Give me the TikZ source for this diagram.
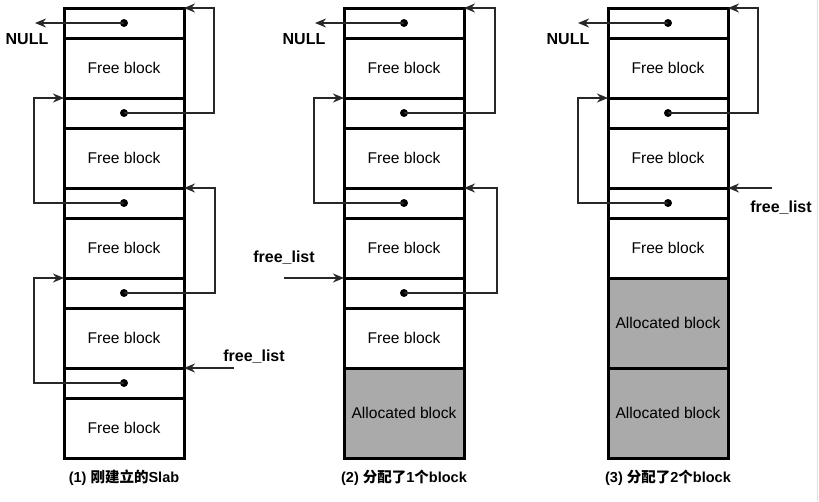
\documentclass[tikz,border=0pt]{standalone}
\usepackage{fontspec}
\setmainfont{Liberation Sans}
\newfontfamily\cjk{Noto Sans CJK SC}
\usetikzlibrary{arrows.meta}
\definecolor{allocgray}{RGB}{170,170,170}
\definecolor{linkgray}{RGB}{40,40,40}

\begin{document}
\begin{tikzpicture}[x=1pt,y=-1pt,
    cell/.style={draw, line width=3pt, outer sep=0pt, inner sep=0pt, minimum width=120pt, font=\fontsize{15.6}{18}\selectfont},
    hdr/.style={cell, minimum height=30pt},
    free/.style={cell, minimum height=60pt},
    alloc/.style={cell, fill=allocgray, minimum height=90pt},
    dot/.style={circle, fill=black, minimum size=8pt, inner sep=0pt},
    link/.style={draw=linkgray, line width=1.5pt, -{Stealth[length=11pt,width=9pt,inset=3.5pt]}},
    lbl/.style={font=\bfseries\fontsize{16}{19}\selectfont},
    captext/.style={font=\bfseries\fontsize{14.5}{17}\selectfont}]
	\useasboundingbox (0,0) rectangle (819,501);
	\draw[black!12, line width=1pt] (817.5,0) -- (817.5,501);
	% the three slabs
	\foreach \cx/\n [count=\c] in {124/5,404/4,668/3}{
		\foreach \i in {1,...,\n}{
			\node[hdr] (c\c h\i) at (\cx,{90*\i-67}) {};
			\node[dot] (c\c d\i) at (c\c h\i.center) {};
			\node[free] (c\c b\i) at (\cx,{90*\i-22}) {Free block};
		}
	}
	\node[alloc] (c2a1) at (404,413) {Allocated block};
	\node[alloc] (c3a1) at (668,323) {Allocated block};
	\node[alloc] (c3a2) at (668,413) {Allocated block};

	% (1)
	\coordinate (c1nul) at (35,23);
	\node[lbl] (c1nulltxt) at (27,39) {NULL};
	\draw[link] (c1d1.center) -- (c1nul);
	\draw[link] (c1d2.center) -| ([xshift=30pt]c1h1.north east) -- (c1h1.north east);
	\draw[link] (c1d3.center) -| ([xshift=-30pt]c1h2.north west) -- (c1h2.north west);
	\draw[link] (c1d4.center) -| ([xshift=31pt]c1h3.north east) -- (c1h3.north east);
	\draw[link] (c1d5.center) -| ([xshift=-30pt]c1h4.north west) -- (c1h4.north west);
	\coordinate (c1fl) at ([xshift=50pt]c1h5.north east);
	\node[lbl] (c1fltxt) at (254,357) {free\_list};
	\draw[link] (c1fl) -- (c1h5.north east);
	\node[captext] (cap1) at (124,478) {(1) {\cjk 刚建立的}Slab};

	% (2)
	\coordinate (c2nul) at (315,23);
	\node[lbl] (c2nulltxt) at (304,39) {NULL};
	\draw[link] (c2d1.center) -- (c2nul);
	\draw[link] (c2d2.center) -| ([xshift=31pt]c2h1.north east) -- (c2h1.north east);
	\draw[link] (c2d3.center) -| ([xshift=-30pt]c2h2.north west) -- (c2h2.north west);
	\draw[link] (c2d4.center) -| ([xshift=33pt]c2h3.north east) -- (c2h3.north east);
	\coordinate (c2fl) at ([xshift=-60pt]c2h4.north west);
	\node[lbl] (c2fltxt) at (284,258) {free\_list};
	\draw[link] (c2fl) -- (c2h4.north west);
	\node[captext] (cap2) at (404,478) {(2) {\cjk 分配了}1{\cjk 个}block};

	% (3)
	\coordinate (c3nul) at (578,23);
	\node[lbl] (c3nulltxt) at (568,39) {NULL};
	\draw[link] (c3d1.center) -- (c3nul);
	\draw[link] (c3d2.center) -| ([xshift=30pt]c3h1.north east) -- (c3h1.north east);
	\draw[link] (c3d3.center) -| ([xshift=-30pt]c3h2.north west) -- (c3h2.north west);
	\coordinate (c3fl) at ([xshift=44pt]c3h3.north east);
	\node[lbl] (c3fltxt) at (781,208) {free\_list};
	\draw[link] (c3fl) -- (c3h3.north east);
	\node[captext] (cap3) at (668,478) {(3) {\cjk 分配了}2{\cjk 个}block};
\end{tikzpicture}
\end{document}
